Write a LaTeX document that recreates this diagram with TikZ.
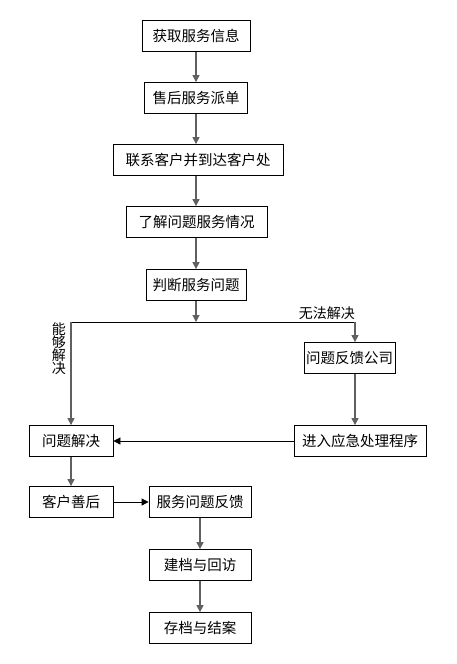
\documentclass[tikz,border=0pt]{standalone}
\usepackage{fontspec}
\setmainfont{Noto Sans CJK SC}
\usetikzlibrary{arrows.meta, positioning, calc}

\tikzset{
  box/.style={draw, line width=0.8pt, minimum height=31pt, inner sep=0pt, font=\fontsize{14.5}{16}\selectfont},
  lbl/.style={font=\fontsize{14}{15}\selectfont, inner sep=1pt},
  flow/.style={-{Triangle[length=7pt,width=7pt]}, line width=1.1pt, draw=gray!75!black},
  flowh/.style={-{Triangle[length=7pt,width=7pt]}, line width=0.8pt}
}

\begin{document}
\begin{tikzpicture}[x=1pt, y=-1pt]
    \useasboundingbox[fill=white] (0,0) rectangle (456,664);

    \node[box, minimum width=108pt] (info) at (196,36) {获取服务信息};
    \node[box, minimum width=103pt] (disp) at (196,98) {售后服务派单};
    \node[box, minimum width=170pt] (visit) at (198,160) {联系客户并到达客户处};
    \node[box, minimum width=141pt] (learn) at (196.5,222) {了解问题服务情况};
    \node[box, minimum width=100pt] (judge) at (196,285) {判断服务问题};
    \node[box, minimum width=91pt] (fbco) at (349.5,358) {问题反馈公司};
    \node[box, minimum width=132pt] (emerg) at (360,441) {进入应急处理程序};
    \node[box, minimum width=84pt] (solve) at (71,441) {问题解决};
    \node[box, minimum width=84pt] (after) at (71,502) {客户善后};
    \node[box, minimum width=102pt] (svcfb) at (200,502) {服务问题反馈};
    \node[box, minimum width=102pt] (arch) at (200,565) {建档与回访};
    \node[box, minimum width=102pt] (close) at (200,628) {存档与结案};

    \coordinate (split) at (196,322);
    \coordinate (bl) at (71,322);
    \coordinate (br) at (355,322);

    \draw[flow] (info) -- (disp);
    \draw[flow] (disp) -- (visit.north -| disp);
    \draw[flow] (visit.south -| disp) -- (learn.north -| disp);
    \draw[flow] (learn.south -| disp) -- (judge.north -| disp);
    \draw[flow] (judge) -- (split);
    \draw[line width=0.8pt] (bl) -- (br);
    \draw[flow] (bl) -- (solve);
    \draw[flow] (br) -- (br |- fbco.north);
    \draw[flow] (br |- fbco.south) -- (br |- emerg.north);
    \draw[flowh] (emerg) -- (solve);
    \draw[flow] (solve) -- (after);
    \draw[flowh] (after) -- (svcfb);
    \draw[flow] (svcfb) -- (arch);
    \draw[flow] (arch) -- (close);

    \node[lbl, anchor=south east] (nolab) at ($(br)+(1,-1)$) {无法解决};
    \node[lbl, anchor=north east, align=center] (yeslab) at ($(bl)+(-4,0)$) {能\\[-2pt]够\\[-2pt]解\\[-2pt]决};
\end{tikzpicture}
\end{document}
